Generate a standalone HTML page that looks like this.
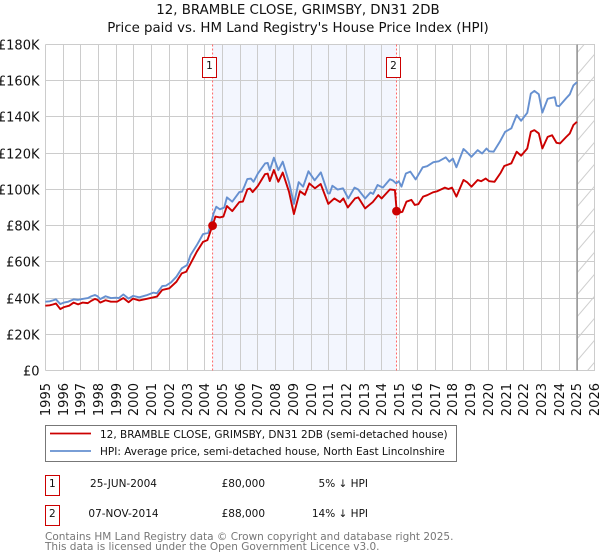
<!DOCTYPE html>
<html>
<head>
<meta charset="utf-8">
<title>12, BRAMBLE CLOSE, GRIMSBY, DN31 2DB</title>
<style>
html,body{margin:0;padding:0;background:#fff;}
svg{display:block;}
text{font-family:"DejaVu Sans","Liberation Sans",sans-serif;fill:#111;}
</style>
</head>
<body>
<svg id="chart" width="600" height="560" viewBox="0 0 600 560" xmlns="http://www.w3.org/2000/svg">
<text x="298" y="14" text-anchor="middle" font-size="13.35">12, BRAMBLE CLOSE, GRIMSBY, DN31 2DB</text>
<text x="298" y="32" text-anchor="middle" font-size="13.35">Price paid vs. HM Land Registry's House Price Index (HPI)</text>
<g id="plot"></g>

<g>
<rect x="45.5" y="425.5" width="411" height="36" fill="#fff" stroke="#777" stroke-width="1"/>
<line x1="50" x2="91" y1="433.5" y2="433.5" stroke="#cc0000" stroke-width="1.8"/>
<text x="100" y="438" font-size="10.5">12, BRAMBLE CLOSE, GRIMSBY, DN31 2DB (semi-detached house)</text>
<line x1="50" x2="91" y1="451" y2="451" stroke="#6690d0" stroke-width="1.8"/>
<text x="100" y="455" font-size="10.5">HPI: Average price, semi-detached house, North East Lincolnshire</text>
</g>

<g>
<rect x="45.5" y="475.5" width="14" height="20" fill="#fff" stroke="#cc0000"/>
<text x="52.3" y="487" text-anchor="middle" font-size="10.5">1</text>
<text x="123.5" y="487" text-anchor="middle" font-size="10.5">25-JUN-2004</text>
<text x="243.3" y="487" text-anchor="middle" font-size="10.5">£80,000</text>
<text x="368" y="487" text-anchor="end" font-size="10.5">5% ↓ HPI</text>
<rect x="45.5" y="505.5" width="14" height="20" fill="#fff" stroke="#cc0000"/>
<text x="52.3" y="517" text-anchor="middle" font-size="10.5">2</text>
<text x="123.5" y="517" text-anchor="middle" font-size="10.5">07-NOV-2014</text>
<text x="243.3" y="517" text-anchor="middle" font-size="10.5">£88,000</text>
<text x="368" y="517" text-anchor="end" font-size="10.5">14% ↓ HPI</text>
</g>

<text x="45" y="540" font-size="10.5" style="fill:#777">Contains HM Land Registry data © Crown copyright and database right 2025.</text>
<text x="45" y="550" font-size="10.5" style="fill:#777">This data is licensed under the Open Government Licence v3.0.</text>

<script>
var yearTicks = [1995,1996,1997,1998,1999,2000,2001,2002,2003,2004,2005,2006,2007,2008,2009,2010,2011,2012,2013,2014,2015,2016,2017,2018,2019,2020,2021,2022,2023,2024,2025,2026];
var priceTicks = [0,20,40,60,80,100,120,140,160,180];
var priceTickLabels = ["£0","£20K","£40K","£60K","£80K","£100K","£120K","£140K","£160K","£180K"];
var hpiDates = [1995,1995.25,1995.45,1995.6,1995.72,1995.85,1996.05,1996.3,1996.6,1996.85,1997.1,1997.4,1997.6,1997.8,1997.95,1998.1,1998.4,1998.7,1999,1999.15,1999.4,1999.7,1999.95,2000.3,2000.7,2001.1,2001.3,2001.6,2001.8,2002.1,2002.4,2002.7,2003,2003.2,2003.55,2003.9,2004.2,2004.35,2004.5,2004.65,2004.85,2005.1,2005.25,2005.55,2005.95,2006.1,2006.25,2006.4,2006.6,2006.75,2007,2007.4,2007.55,2007.67,2007.9,2008.15,2008.4,2008.75,2009.03,2009.3,2009.55,2009.85,2010.2,2010.55,2010.95,2011.05,2011.2,2011.5,2011.8,2012.1,2012.45,2012.65,2013.05,2013.35,2013.5,2013.75,2014.05,2014.45,2014.6,2014.8,2014.95,2015.1,2015.35,2015.6,2015.9,2016.3,2016.55,2016.9,2017.2,2017.6,2017.8,2018,2018.2,2018.6,2018.75,2019.05,2019.4,2019.65,2019.9,2020.05,2020.3,2020.65,2020.95,2021.3,2021.6,2021.85,2022.2,2022.4,2022.6,2022.85,2023.05,2023.35,2023.55,2023.75,2023.85,2024,2024.4,2024.6,2024.8,2025];
var hpiValues = [38,38.2,38.8,39.3,38,36.7,37.5,38,39.3,39,39.5,40,41,41.7,41,39.4,41,40,40.2,40,42,39.7,41.2,40.4,41.5,43,42.6,46.6,46.8,48.7,51.8,56.4,58.2,63.8,69.2,75.3,76,81.3,86.8,90.4,89,90,95.6,93.2,98.5,98.7,102,105.7,106,104.2,108.8,114.3,114.6,110.6,117.5,110.6,115.3,104,92,104,101.5,110,105,109.4,97.8,97.8,102,99.9,100.6,95,101,100,95,98.3,97.5,102.4,101,105.6,105,103.3,104.5,101.5,108.8,109.8,105.5,112.2,112.8,115,115.5,117.7,115.3,117,112.2,122.3,121,118,121.7,119.8,122.6,121,120.8,126.3,131.8,133.7,141,137.9,142.3,152.9,154.4,152.5,142.4,150,150.5,150.9,146.3,145.9,150.4,152.5,157.4,159.2];
var paidDates = [1995,1995.25,1995.45,1995.6,1995.72,1995.85,1996.05,1996.35,1996.6,1996.85,1997.1,1997.4,1997.6,1997.8,1997.95,1998.1,1998.4,1998.7,1999.05,1999.4,1999.7,1999.95,2000.3,2000.7,2001.3,2001.6,2002,2002.4,2002.7,2002.95,2003.25,2003.55,2003.9,2004.15,2004.35,2004.44,2004.6,2004.85,2005.05,2005.25,2005.55,2005.95,2006.15,2006.4,2006.55,2006.7,2007,2007.4,2007.55,2007.67,2007.9,2008.15,2008.4,2008.75,2009.03,2009.37,2009.65,2009.9,2010.22,2010.54,2010.97,2011.31,2011.63,2011.82,2012.07,2012.48,2012.66,2013.05,2013.48,2013.79,2013.98,2014.45,2014.73,2014.83,2015.03,2015.15,2015.38,2015.66,2015.85,2016.05,2016.32,2016.55,2016.88,2017.1,2017.55,2017.75,2017.95,2018.2,2018.6,2018.8,2019.05,2019.4,2019.6,2019.85,2020.05,2020.35,2020.7,2020.9,2021.3,2021.6,2021.85,2022.2,2022.4,2022.6,2022.85,2023.05,2023.35,2023.6,2023.85,2024.05,2024.4,2024.6,2024.8,2025];
var paidValues = [35.8,36,36.5,37,35.5,33.9,35,35.8,37.5,36.5,37.5,37.2,38.5,39.5,39,37.5,38.8,38,38,40,37.7,39.7,38.7,39.5,40.8,44.5,45.4,49,53.6,54.5,60,65.6,71,72,77.6,80,85,84.5,85,90.8,88,93,93.3,100,100.5,98.5,102,108.4,108.7,104.6,110.7,104.2,109.3,98.8,86.4,99,97,103.3,100.6,103,92,95,93,95,90,95,95.6,89.5,93,96.8,95,100,99.6,88,87.3,87.6,93.2,94.2,91.4,91.8,96,96.8,98.4,98.9,101,100.2,101,96,105.2,104,101.5,105.2,104.5,106,104.5,104.2,109.2,112.9,114.4,120.8,118.6,122.6,131.8,132.7,130.9,122.6,129,129.9,125.7,125.4,129,130.9,135.5,137.3];
var saleDates = [2004.44,2014.82];
var salePrices = [80,88];
var saleLabels = ["1","2"];
var lastDataDate = 2025.02;

var NS = "http://www.w3.org/2000/svg";
var plot = document.getElementById("plot");
function xScale(year){ return 45.3 + (year - 1995) * 17.72; }
function yScale(k){ return 370.5 - k * 326 / 180; }
function snap(v){ return Math.floor(v) + 0.5; }
function make(tag, attrs, parent){
  var el = document.createElementNS(NS, tag);
  for (var a in attrs) el.setAttribute(a, attrs[a]);
  (parent || plot).appendChild(el);
  return el;
}
function pathFrom(dates, values){
  var d = "";
  for (var i = 0; i < dates.length; i++){
    d += (i ? "L" : "M") + xScale(dates[i]).toFixed(2) + " " + yScale(values[i]).toFixed(2);
  }
  return d;
}

var left = xScale(1995), right = xScale(2026), top_ = yScale(180), bottom = yScale(0);

var band = make("rect", {x: xScale(saleDates[0]), y: top_, width: xScale(saleDates[1]) - xScale(saleDates[0]), height: bottom - top_, fill: "#f3f6fe"});



var hatchWidth = right - xScale(lastDataDate);
var hatchHeight = bottom - top_;
var hatch = make("svg", {x: xScale(lastDataDate), y: top_, width: hatchWidth, height: hatchHeight, viewBox: "0 0 " + hatchWidth + " " + hatchHeight});


for (var offset = 0; offset < hatchHeight + 40; offset += 22){
  var stripe = make("line", {x1: 0, y1: offset + 8, x2: hatchWidth, y2: offset + 8 - hatchWidth * 1.17, stroke: "#cfcfcf", "stroke-width": 1}, hatch);
  
  
}

priceTicks.forEach(function(v, i){
  var y = snap(yScale(v));
  var line = make("line", {x1: 45.5, x2: 595, y1: y, y2: y, stroke: "#cccccc", "stroke-width": 1});
  
  
  var label = make("text", {x: 39.5, y: y + 5, "text-anchor": "end", "font-size": 13});
  
  
  label.textContent = priceTickLabels[i];
});

yearTicks.forEach(function(year){
  var x = snap(xScale(year));
  var line = make("line", {x1: x, x2: x, y1: 44.5, y2: 370.5, stroke: "#cccccc", "stroke-width": 1});
  
  
  var label = make("text", {transform: "translate(" + (x + 4.5) + ",383) rotate(-90)", "text-anchor": "end", "font-size": 13});
  
  
  label.textContent = String(year);
});

var endLine = make("line", {x1: xScale(lastDataDate), x2: xScale(lastDataDate), y1: 44.5, y2: 370.5, stroke: "#999999", "stroke-width": 1.4});



saleDates.forEach(function(date){
  var line = make("line", {x1: xScale(date), x2: xScale(date), y1: 44.5, y2: 370.5, stroke: "#ff6666", "stroke-width": 1, "stroke-dasharray": "2,2"});
  
  
});

var hpiLine = make("path", {d: pathFrom(hpiDates, hpiValues), fill: "none", stroke: "#6690d0", "stroke-width": 1.9, "stroke-linejoin": "round"});



var paidLine = make("path", {d: pathFrom(paidDates, paidValues), fill: "none", stroke: "#cc0000", "stroke-width": 1.9, "stroke-linejoin": "round"});



saleDates.forEach(function(date, i){
  var dot = make("circle", {cx: xScale(date), cy: yScale(salePrices[i]), r: 4.4, fill: "#cc0000"});
  
  
  var box = make("rect", {x: snap(xScale(date)) - 10, y: 57.5, width: 14, height: 20, fill: "#fff", stroke: "#cc0000", "stroke-width": 1});
  
  
  var num = make("text", {x: snap(xScale(date)) - 3, y: 69, "text-anchor": "middle", "font-size": 10.5});
  
  
  num.textContent = saleLabels[i];
});
</script>
</svg>
</body>
</html>
